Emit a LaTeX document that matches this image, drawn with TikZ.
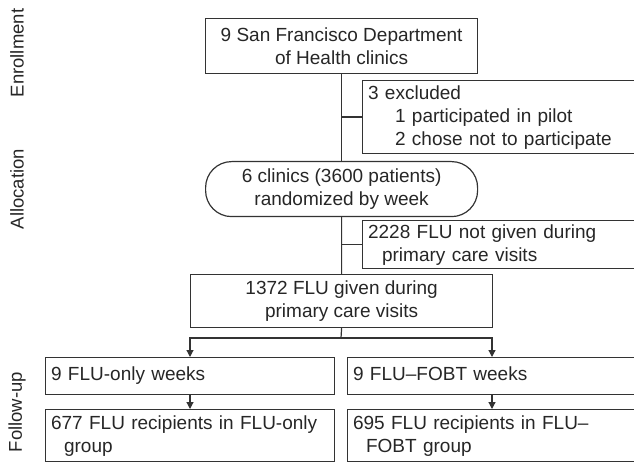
\documentclass[tikz,border=0pt]{standalone}
\usepackage{fontspec}
\setmainfont{Liberation Sans}
\usetikzlibrary{arrows.meta}
\begin{document}
\begin{tikzpicture}[x=1bp,y=-1bp,
  every node/.style={font=\fontsize{19bp}{23bp}\selectfont, text=black!85},
  cbox/.style={draw=black!80, line width=1.2bp, inner sep=0pt, anchor=north west, align=center},
  lbox/.style={draw=black!80, line width=1.2bp, inner xsep=5.5bp, inner ysep=0pt, anchor=north west, align=left},
  conn/.style={draw=black!80, line width=1.2bp},
  arr/.style={conn, -{Triangle[length=7bp,width=7bp]}},
  side/.style={rotate=90, font=\fontsize{18.5bp}{22bp}\selectfont}
]
\useasboundingbox (0,0) rectangle (634,473);
\clip (0,0) rectangle (634,473);

\node[side] (lenroll) at (17,53) {Enrollment};
\node[side] (lalloc) at (17,189) {Allocation};
\node[side] (lfollow) at (17,412) {Follow-up};

\node[cbox, minimum width=272bp, minimum height=55bp] (top) at (205,18)
  {9 San Francisco Department\\of Health clinics};
\node[lbox, text width=277bp, minimum height=73bp] (excl) at (362,80)
  {3 excluded\\\hspace*{27bp}1 participated in pilot\\\hspace*{27bp}2 chose not to participate};
\node[cbox, rounded corners=26bp, minimum width=272bp, minimum height=55bp] (rand) at (205,161)
  {6 clinics (3600 patients)\\randomized by week};
\node[lbox, text width=277bp, minimum height=48bp] (notgiven) at (362,220)
  {2228 FLU not given during\\\hspace*{14bp}primary care visits};
\node[cbox, minimum width=302bp, minimum height=53bp] (given) at (190,274)
  {1372 FLU given during\\primary care visits};
\node[lbox, text width=278bp, minimum height=37bp] (onlyw) at (45,357)
  {\strut 9 FLU-only weeks};
\node[lbox, text width=292bp, minimum height=37bp] (fobtw) at (347,357)
  {\strut 9 FLU–FOBT weeks};
\node[lbox, text width=278bp, minimum height=52bp] (onlyr) at (45,409)
  {677 FLU recipients in FLU-only\\\hspace*{13bp}group};
\node[lbox, text width=292bp, minimum height=52bp] (fobtr) at (347,409)
  {695 FLU recipients in FLU–\\\hspace*{13bp}FOBT group};

\coordinate (split) at (341,338);
\coordinate (sl) at (190,338);
\coordinate (sr) at (492,338);

\draw[conn] (top.south) -- (rand.north);
\draw[conn] (top.south |- excl.west) -- (excl.west);
\draw[conn] (rand.south) -- (given.north);
\draw[conn] (rand.south |- notgiven.west) -- (notgiven.west);
\draw[conn] (given.south) -- (split);
\draw[arr] (split) -- (sl) -- (sl |- onlyw.north);
\draw[arr] (split) -- (sr) -- (sr |- fobtw.north);
\draw[arr] (sl |- onlyw.south) -- (sl |- onlyr.north);
\draw[arr] (sr |- fobtw.south) -- (sr |- fobtr.north);
\end{tikzpicture}
\end{document}
